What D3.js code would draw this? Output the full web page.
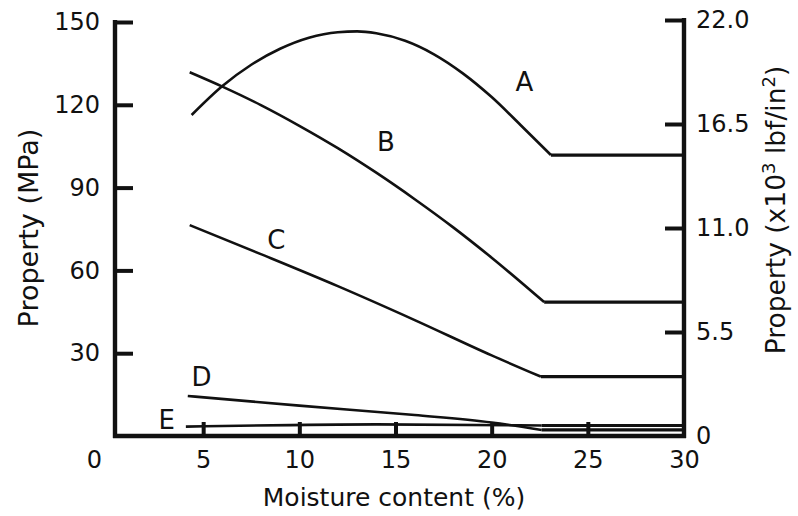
<!DOCTYPE html>
<html>
<head>
<meta charset="utf-8">
<script src="https://cdn.jsdelivr.net/npm/d3@7"></script>
<style>
  body { margin: 0; background: #fff; }
  svg { display: block; }
  text { font-family: "DejaVu Sans", Verdana, sans-serif; fill: #111; }
</style>
</head>
<body>
<svg id="chart" width="798" height="516"></svg>
<script>
// Strength/stiffness properties versus moisture content.
// Each curve: moisture content (%) and property (MPa); last two points form the plateau above fibre saturation.
const moistureA = [4.4, 6, 7.5, 9, 10.5, 12, 13, 14, 15.5, 17, 18.5, 20, 21.5, 23.08, 30];
const propertyA = [116.3, 126.8, 134.5, 140.3, 144.3, 146.3, 146.6, 145.9, 143.2, 138.3, 131.4, 122.8, 112.7, 101.8, 101.8];

const moistureB = [4.3, 6, 8, 10, 12, 14, 16, 18, 20, 22.73, 30];
const propertyB = [131.8, 126.6, 119.9, 112.4, 104.3, 95.4, 85.8, 75.6, 64.6, 48.5, 48.5];

const moistureC = [4.3, 8, 12, 16, 20, 22.56, 30];
const propertyC = [76.4, 65.9, 54.3, 42.0, 29.2, 21.5, 21.5];

const moistureD = [4.2, 10, 16, 20, 22.6, 30];
const propertyD = [14.5, 11.0, 7.6, 4.9, 2.2, 2.2];

const moistureE = [4.1, 14, 22.6, 30];
const propertyE = [3.4, 4.2, 3.8, 3.8];

const curveNames = ["A", "B", "C", "D", "E"];
// label anchor for each curve name, in data units (moisture %, MPa)
const labelMoisture = [21.7, 14.5, 8.81, 4.92, 3.1];
const labelProperty = [128.4, 106.6, 71.3, 21.5, 5.8];

const moistureTicks = [0, 5, 10, 15, 20, 25, 30];
const mpaTicks = [30, 60, 90, 120, 150];
const psiTicks = [0, 5.5, 11, 16.5, 22];
const psiTickLabels = ["0", "5.5", "11.0", "16.5", "22.0"];

const svg = d3.select("#chart");
const frameLeft = 115;

const x = d3.scaleLinear().domain([0, 30]).range([107, 684]);
const y = d3.scaleLinear().domain([0, 150]).range([436, 22]);
const y2 = d3.scaleLinear().domain([0, 22]).range([436, 20]);
const frameRight = x(30);

const series = [
  [moistureA, propertyA],
  [moistureB, propertyB],
  [moistureC, propertyC],
  [moistureD, propertyD],
  [moistureE, propertyE]
];

const smooth = d3.line().x(d => x(d[0])).y(d => y(d[1])).curve(d3.curveMonotoneX);
const straight = d3.line().x(d => x(d[0])).y(d => y(d[1]));

const curves = svg.append("g").attr("fill", "none").attr("stroke", "#111");
series.forEach(([mc, prop]) => {
  const pts = mc.map((m, i) => [m, prop[i]]);
  const n = pts.length;
  curves.append("path").attr("d", smooth(pts.slice(0, n - 1))).attr("stroke-width", 2.6);
  curves.append("path").attr("d", straight(pts.slice(n - 2))).attr("stroke-width", 3.2);
});

// left axis (MPa)
const left = svg.append("g").attr("transform", `translate(${frameLeft},0)`)
  .call(d3.axisLeft(y).tickValues(mpaTicks).tickSize(-18).tickSizeOuter(0).tickPadding(15));
left.select(".domain").attr("d", `M0,${y(0) + 2}V${y(150) - 2}`);

// right axis (x10^3 lbf/in^2)
const right = svg.append("g").attr("transform", `translate(${frameRight},0)`)
  .call(d3.axisRight(y2).tickValues(psiTicks).tickFormat((d, i) => psiTickLabels[i])
    .tickSize(-19).tickSizeOuter(0).tickPadding(12));
right.select(".domain").attr("d", `M0,${y(0) + 2}V${y2(22) - 2}`);
right.selectAll(".tick").filter(d => d === 0).select("line").remove();

// bottom axis (moisture content)
const bottom = svg.append("g").attr("transform", `translate(0,${y(0)})`)
  .call(d3.axisBottom(x).tickValues(moistureTicks).tickSize(-14).tickSizeOuter(0).tickPadding(15));
bottom.select(".domain").attr("d", `M${frameLeft - 2},0H${frameRight + 2}`);
bottom.selectAll(".tick").filter(d => d === 0 || d === 30).select("line").remove();
bottom.selectAll(".tick").filter(d => d === 0).select("text").attr("dx", -13);

[left, right, bottom].forEach(g => {
  g.selectAll(".domain").attr("stroke", "#111").attr("stroke-width", 4.4);
  g.selectAll(".tick line").attr("stroke", "#111").attr("stroke-width", 4);
  g.selectAll(".tick text").attr("font-size", 24).attr("fill", "#111")
    .attr("font-family", '"DejaVu Sans", Verdana, sans-serif');
});

// curve letters
svg.append("g").selectAll("text").data(curveNames).join("text")
  .attr("x", (d, i) => x(labelMoisture[i]))
  .attr("y", (d, i) => y(labelProperty[i]))
  .attr("dy", "0.36em")
  .attr("text-anchor", "middle")
  .attr("font-size", 26)
  .text(d => d);

// axis titles
svg.append("text")
  .attr("x", 394).attr("y", 506)
  .attr("text-anchor", "middle").attr("font-size", 25)
  .text("Moisture content (%)");

svg.append("text")
  .attr("transform", "translate(38,228) rotate(-90)")
  .attr("text-anchor", "middle").attr("font-size", 27)
  .text("Property (MPa)");

const rt = svg.append("text")
  .attr("transform", "translate(785,210) rotate(-90)")
  .attr("text-anchor", "middle").attr("font-size", 26.5);
rt.append("tspan").text("Property (x10");
rt.append("tspan").attr("baseline-shift", "super").attr("font-size", 18).text("3");
rt.append("tspan").text(" lbf/in");
rt.append("tspan").attr("baseline-shift", "super").attr("font-size", 18).text("2");
rt.append("tspan").text(")");
</script>
</body>
</html>
